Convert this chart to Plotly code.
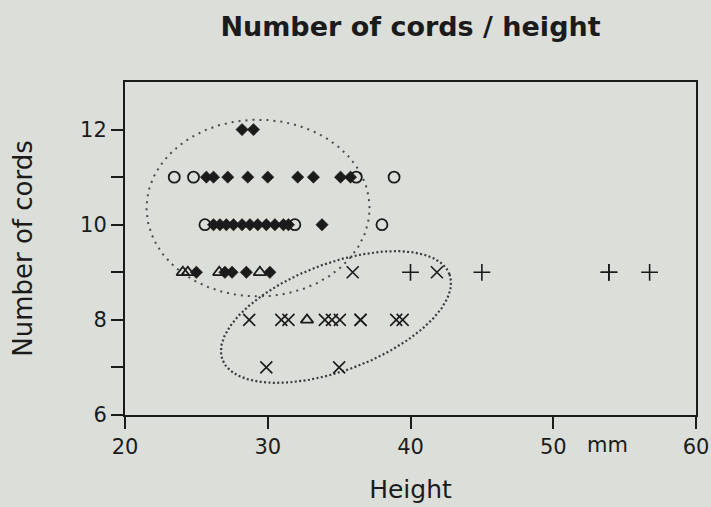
import numpy as np
import plotly.graph_objects as go

# ---------------- data ----------------
diamond_x = [28.2, 29.0,
             25.7, 26.2, 27.2, 28.6, 30.0, 32.1, 33.2, 35.1, 35.8,
             26.2, 26.65, 27.1, 27.6, 28.2, 28.75, 29.3, 29.9, 30.5, 31.1, 31.45, 33.8,
             25.0, 27.0, 27.5, 28.5, 30.15]
diamond_y = [12, 12,
             11, 11, 11, 11, 11, 11, 11, 11, 11,
             10, 10, 10, 10, 10, 10, 10, 10, 10, 10, 10, 10,
             9, 9, 9, 9, 9]

circle_x = [23.45, 24.8, 36.2, 38.85, 25.6, 31.9, 38.0]
circle_y = [11, 11, 11, 11, 10, 10, 10]

triangle_x = [24.05, 24.4, 26.6, 29.45, 32.75]
triangle_y = [9, 9, 9, 9, 8]

cross_x = [35.95, 41.85,
           28.7, 30.95, 31.45, 34.0, 34.5, 35.05, 36.5, 36.5, 39.0, 39.45,
           29.9, 35.0]
cross_y = [9, 9,
           8, 8, 8, 8, 8, 8, 8, 8, 8, 8,
           7, 7]

plus_x = [40.0, 45.0, 53.9, 53.9, 56.75]
plus_y = [9, 9, 9, 9, 9]

x_ticks = [20, 30, 40, 50, 60]
y_ticks = [6, 7, 8, 9, 10, 11, 12]
y_ticktext = ["6", "", "8", "", "10", "", "12"]

# ---------------- style ----------------
BG = "#dcdfd9"
INK = "#1b1b1b"
FONT = "DejaVu Sans"

# group outlines (dotted ellipses), centre in data units, semi-axes in screen px
PX_PER_X = 571.0 / 40.0   # px per mm on the x axis
PX_PER_Y = 333.5 / 7.0    # px per cord on the y axis


def ellipse(cx, cy, a_px, b_px, rot_deg, n=400):
    t = np.linspace(0, 2 * np.pi, n)
    phi = np.deg2rad(rot_deg)
    xp = a_px * np.cos(t) * np.cos(phi) - b_px * np.sin(t) * np.sin(phi)
    yp = a_px * np.cos(t) * np.sin(phi) + b_px * np.sin(t) * np.cos(phi)
    return cx + xp / PX_PER_X, cy + yp / PX_PER_Y


fig = go.Figure()

e1x, e1y = ellipse(29.32, 10.35, 111.5, 88.5, 0)
e2x, e2y = ellipse(34.78, 8.06, 121.3, 53.6, 20.7)
fig.add_trace(go.Scatter(x=e1x, y=e1y, mode="lines", hoverinfo="skip", showlegend=False,
                         line=dict(color="#4a4a4a", width=2, dash="2px,5px")))
fig.add_trace(go.Scatter(x=e2x, y=e2y, mode="lines", hoverinfo="skip", showlegend=False,
                         line=dict(color="#3a3a3a", width=2.2, dash="2px,2.4px")))

fig.add_trace(go.Scatter(x=circle_x, y=circle_y, mode="markers", showlegend=False,
                         marker=dict(symbol="circle-open", size=11, color=INK,
                                     line=dict(width=1.8, color=INK))))
fig.add_trace(go.Scatter(x=triangle_x, y=triangle_y, mode="markers", showlegend=False,
                         marker=dict(symbol="triangle-up-open", size=11, color=INK,
                                     line=dict(width=1.8, color=INK))))
fig.add_trace(go.Scatter(x=diamond_x, y=diamond_y, mode="markers", showlegend=False,
                         marker=dict(symbol="diamond", size=9.5, color=INK,
                                     line=dict(width=0.5, color=INK))))
fig.add_trace(go.Scatter(x=cross_x, y=cross_y, mode="markers", showlegend=False,
                         marker=dict(symbol="x-thin-open", size=12, color=INK,
                                     line=dict(width=1.6, color=INK))))
fig.add_trace(go.Scatter(x=plus_x, y=plus_y, mode="markers", showlegend=False,
                         marker=dict(symbol="cross-thin-open", size=12, color=INK,
                                     line=dict(width=1.6, color=INK))))

fig.update_layout(
    width=711, height=507,
    margin=dict(l=125, r=15, t=82, b=91.5),
    paper_bgcolor=BG, plot_bgcolor=BG,
    font=dict(family=FONT, color=INK, size=21),
    title=dict(text="<b>Number of cords / height</b>", x=0.5, xref="paper",
               xanchor="center", y=1 - 27 / 507, yanchor="middle", yref="container",
               font=dict(family=FONT, size=27, color=INK)),
    xaxis=dict(range=[20, 60], tickvals=x_ticks, ticks="outside", ticklen=12,
               tickwidth=2, tickcolor=INK, showline=True, linewidth=2, linecolor=INK,
               mirror=True, showgrid=False, zeroline=False, automargin=False,
               tickfont=dict(size=21),
               title=dict(text="Height", font=dict(size=25), standoff=22)),
    yaxis=dict(range=[6, 13], tickvals=y_ticks, ticktext=y_ticktext, ticks="outside",
               ticklen=12, tickwidth=2, tickcolor=INK, showline=True, linewidth=2,
               linecolor=INK, mirror=True, showgrid=False, zeroline=False,
               automargin=False, tickfont=dict(size=21),
               title=dict(text="Number of cords", font=dict(size=26), standoff=40)),
    annotations=[dict(text="mm", x=53.8, xref="x", y=-(446 - 415.5) / 333.5,
                      yref="paper", xanchor="center", yanchor="middle",
                      showarrow=False, font=dict(size=21, color=INK))],
)

fig.write_html("out.html",
               config={"displayModeBar": False},
               post_script="document.body.style.margin='0';"
                           "document.body.style.background='" + BG + "';")
